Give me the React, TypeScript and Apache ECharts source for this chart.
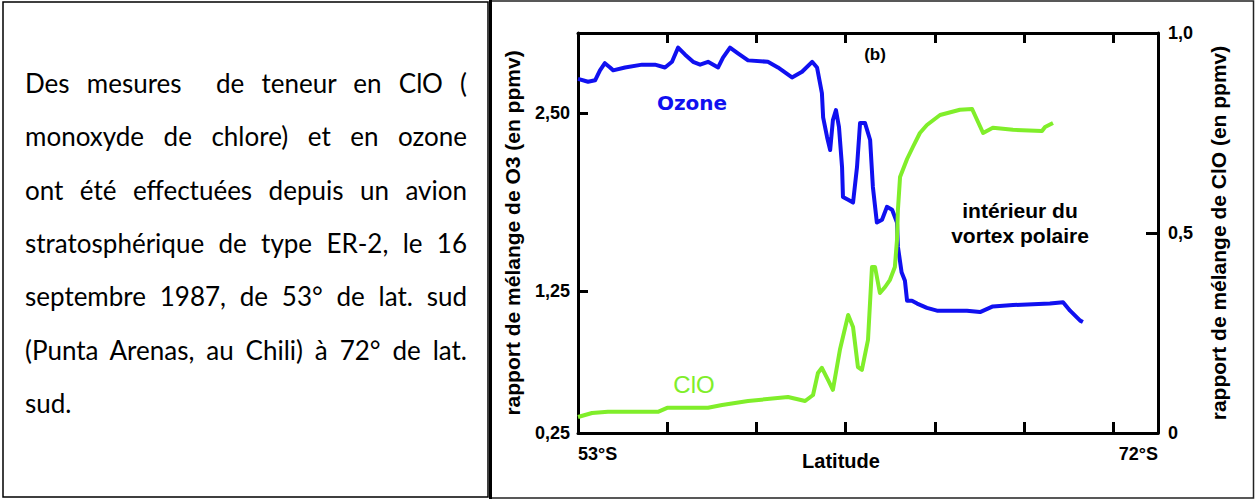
import React, { useEffect, useRef } from "react";
import * as echarts from "echarts";

// Latitude (°S) of each reading
const ozoneLat = [53.0, 53.33, 53.56, 53.72, 53.88, 54.05, 54.15, 54.54, 55.1, 55.52, 55.85, 56.08, 56.28, 56.51, 56.77, 57.0, 57.26, 57.59, 57.75, 57.98, 58.24, 58.57, 59.22, 59.55, 60.01, 60.34, 60.67, 60.83, 60.99, 61.03, 61.16, 61.26, 61.35, 61.45, 61.55, 61.65, 61.68, 61.85, 62.01, 62.14, 62.24, 62.4, 62.57, 62.66, 62.79, 62.96, 63.12, 63.29, 63.45, 63.48, 63.6, 63.71, 63.78, 63.94, 64.11, 64.43, 64.76, 65.74, 66.17, 66.59, 67.25, 68.46, 68.89, 69.12, 69.45, 69.54];
// O3 mixing ratio (ppmv)
const ozoneVal = [2.74, 2.72, 2.73, 2.8, 2.85, 2.82, 2.8, 2.82, 2.84, 2.84, 2.82, 2.86, 2.96, 2.91, 2.86, 2.84, 2.86, 2.82, 2.89, 2.96, 2.92, 2.87, 2.86, 2.82, 2.75, 2.79, 2.86, 2.82, 2.64, 2.47, 2.33, 2.24, 2.45, 2.52, 2.4, 2.12, 1.91, 1.89, 1.87, 2.12, 2.43, 2.43, 2.31, 1.98, 1.73, 1.75, 1.84, 1.82, 1.73, 1.56, 1.38, 1.32, 1.18, 1.18, 1.16, 1.13, 1.11, 1.11, 1.1, 1.14, 1.15, 1.16, 1.17, 1.11, 1.04, 1.03];

const cloLat = [53.0, 53.46, 53.98, 55.62, 55.92, 56.18, 57.26, 57.72, 58.57, 59.88, 60.44, 60.7, 60.86, 60.99, 61.19, 61.35, 61.58, 61.85, 62.01, 62.17, 62.3, 62.5, 62.63, 62.73, 62.89, 63.06, 63.22, 63.38, 63.45, 63.48, 63.55, 63.78, 63.97, 64.2, 64.43, 64.86, 65.51, 65.91, 66.27, 66.59, 67.25, 68.2, 68.3, 68.56];
// ClO mixing ratio (ppmv)
const cloVal = [0.04, 0.05, 0.053, 0.053, 0.063, 0.063, 0.063, 0.07, 0.08, 0.09, 0.08, 0.095, 0.15, 0.163, 0.133, 0.108, 0.208, 0.295, 0.265, 0.165, 0.158, 0.233, 0.415, 0.415, 0.35, 0.365, 0.383, 0.415, 0.483, 0.558, 0.64, 0.685, 0.715, 0.75, 0.77, 0.795, 0.808, 0.81, 0.75, 0.763, 0.758, 0.755, 0.765, 0.775];

const latMin = 53;
const latMax = 72;
const latTickCount = 6.5; // intervals across the axis
const xLabelValues = [53, 72];
const o3LabelValues = [0.25, 1.25, 2.5];
const o3TickValues = [1.25, 2.5];

const paragraphLines = [
  "Des mesures  de teneur en ClO (",
  "monoxyde de chlore) et en ozone",
  "ont été effectuées depuis un avion",
  "stratosphérique de type ER-2, le 16",
  "septembre 1987, de 53° de lat. sud",
  "(Punta Arenas, au Chili) à 72° de lat.",
  "sud.",
];

const FONT = "Liberation Sans";
const BLUE = "#1010f0";
const GREEN = "#80ee2a";

export default function App() {
  const ref = useRef<HTMLDivElement>(null);

  useEffect(() => {
    document.body.style.margin = "0";
    if (!ref.current) return;
    const chart = echarts.init(ref.current, null, { renderer: "svg" });
    const step = (latMax - latMin) / latTickCount;
    const xTicks: number[] = [];
    for (let k = 1; k < latTickCount; k++) xTicks.push(latMin + k * step);

    const axisLine = { show: true, lineStyle: { color: "#000", width: 3 } };
    const tickStyle = { color: "#000", width: 3 };
    const labelStyle = { color: "#000", fontFamily: FONT, fontWeight: "bold" as const, fontSize: 18 };
    const nameStyle = { color: "#000", fontFamily: FONT, fontWeight: "bold" as const, fontSize: 21 };
    const txt = (text: string, x: number, y: number, size: number, extra: any = {}) => ({
      type: "text",
      x,
      y,
      silent: true,
      style: {
        text,
        fill: "#000",
        fontFamily: FONT,
        fontWeight: "bold",
        fontSize: size,
        align: "center",
        verticalAlign: "middle",
        ...extra,
      },
    });

    chart.setOption({
      animation: false,
      backgroundColor: "#fff",
      grid: { left: 578, top: 33, width: 580, height: 400, containLabel: false, outerBoundsMode: "none" },
      xAxis: [
        {
          type: "value",
          position: "bottom",
          min: latMin,
          max: latMax,
          axisLine,
          axisTick: { show: true, inside: true, length: 11, lineStyle: tickStyle, customValues: xTicks },
          axisLabel: {
            ...labelStyle,
            customValues: xLabelValues,
            formatter: (v: number) => `${v}°S`,
            alignMinLabel: "left",
            alignMaxLabel: "right",
            margin: 12,
          },
          splitLine: { show: false },
        },
        {
          type: "value",
          position: "top",
          min: latMin,
          max: latMax,
          axisLine,
          axisTick: { show: true, inside: true, length: 10, lineStyle: tickStyle, customValues: xTicks },
          axisLabel: { show: false },
          splitLine: { show: false },
        },
      ],
      yAxis: [
        {
          type: "value",
          position: "left",
          min: 0.25,
          max: 3.0625,
          axisLine,
          axisTick: { show: true, inside: true, length: 10, lineStyle: tickStyle, customValues: o3TickValues },
          axisLabel: {
            ...labelStyle,
            customValues: o3LabelValues,
            formatter: (v: number) => v.toFixed(2).replace(".", ","),
            margin: 8,
          },
          splitLine: { show: false },
          name: "rapport de mélange de O3 (en ppmv)",
          nameLocation: "middle",
          nameRotate: 90,
          nameGap: 55,
          nameTextStyle: nameStyle,
        },
        {
          type: "value",
          position: "right",
          min: 0,
          max: 1,
          interval: 0.5,
          axisLine,
          axisTick: { show: true, inside: true, length: 12, lineStyle: tickStyle },
          axisLabel: {
            ...labelStyle,
            formatter: (v: number) => (v === 0 ? "0" : v.toFixed(1).replace(".", ",")),
            margin: 10,
          },
          splitLine: { show: false },
          name: "rapport de mélange de ClO (en ppmv)",
          nameLocation: "middle",
          nameRotate: 90,
          nameGap: 50,
          nameTextStyle: nameStyle,
        },
      ],
      series: [
        {
          type: "line",
          name: "Ozone",
          xAxisIndex: 0,
          yAxisIndex: 0,
          showSymbol: false,
          symbol: "none",
          lineStyle: { color: BLUE, width: 4, join: "round" },
          data: ozoneLat.map((x, i) => [x, ozoneVal[i]]),
          z: 3,
        },
        {
          type: "line",
          name: "ClO",
          xAxisIndex: 0,
          yAxisIndex: 1,
          showSymbol: false,
          symbol: "none",
          lineStyle: { color: GREEN, width: 4, join: "round" },
          data: cloLat.map((x, i) => [x, cloVal[i]]),
          z: 4,
        },
      ],
      graphic: [
        { type: "rect", silent: true, shape: { x: 3, y: 2, width: 485, height: 495 }, style: { fill: "none", stroke: "#000", lineWidth: 1.5 } },
        { type: "rect", silent: true, shape: { x: 490.5, y: 1, width: 763, height: 497 }, style: { fill: "none", stroke: "#222", lineWidth: 1.5 } },
        { type: "line", silent: true, shape: { x1: 490.5, y1: 0, x2: 490.5, y2: 499 }, style: { stroke: "#000", lineWidth: 3 } },
        txt("(b)", 875, 54, 17),
        txt("Ozone", 692, 103, 20, { fill: BLUE, fontFamily: "DejaVu Sans" }),
        txt("ClO", 694, 384, 24, { fill: GREEN, fontWeight: "normal" }),
        txt("intérieur du\nvortex polaire", 1020, 223, 21, { lineHeight: 25 }),
        txt("Latitude", 841, 461, 20),
      ],
    });
    return () => chart.dispose();
  }, []);

  return (
    <div style={{ position: "relative", width: 1255, height: 499, background: "#fff" }}>
      <div ref={ref} style={{ position: "absolute", left: 0, top: 0, width: 1255, height: 499 }} />
      <div
        style={{
          position: "absolute",
          left: 25,
          top: 57,
          width: 442,
          fontFamily: "Lato, 'Open Sans', sans-serif",
          fontSize: 26,
          lineHeight: "53.33px",
          color: "#000",
        }}
      >
        {paragraphLines.map((line, i) => (
          <div
            key={i}
            style={{
              textAlign: "justify",
              textAlignLast: i < paragraphLines.length - 1 ? "justify" : "left",
              whiteSpace: "pre-wrap",
            }}
          >
            {line}
          </div>
        ))}
      </div>
    </div>
  );
}
